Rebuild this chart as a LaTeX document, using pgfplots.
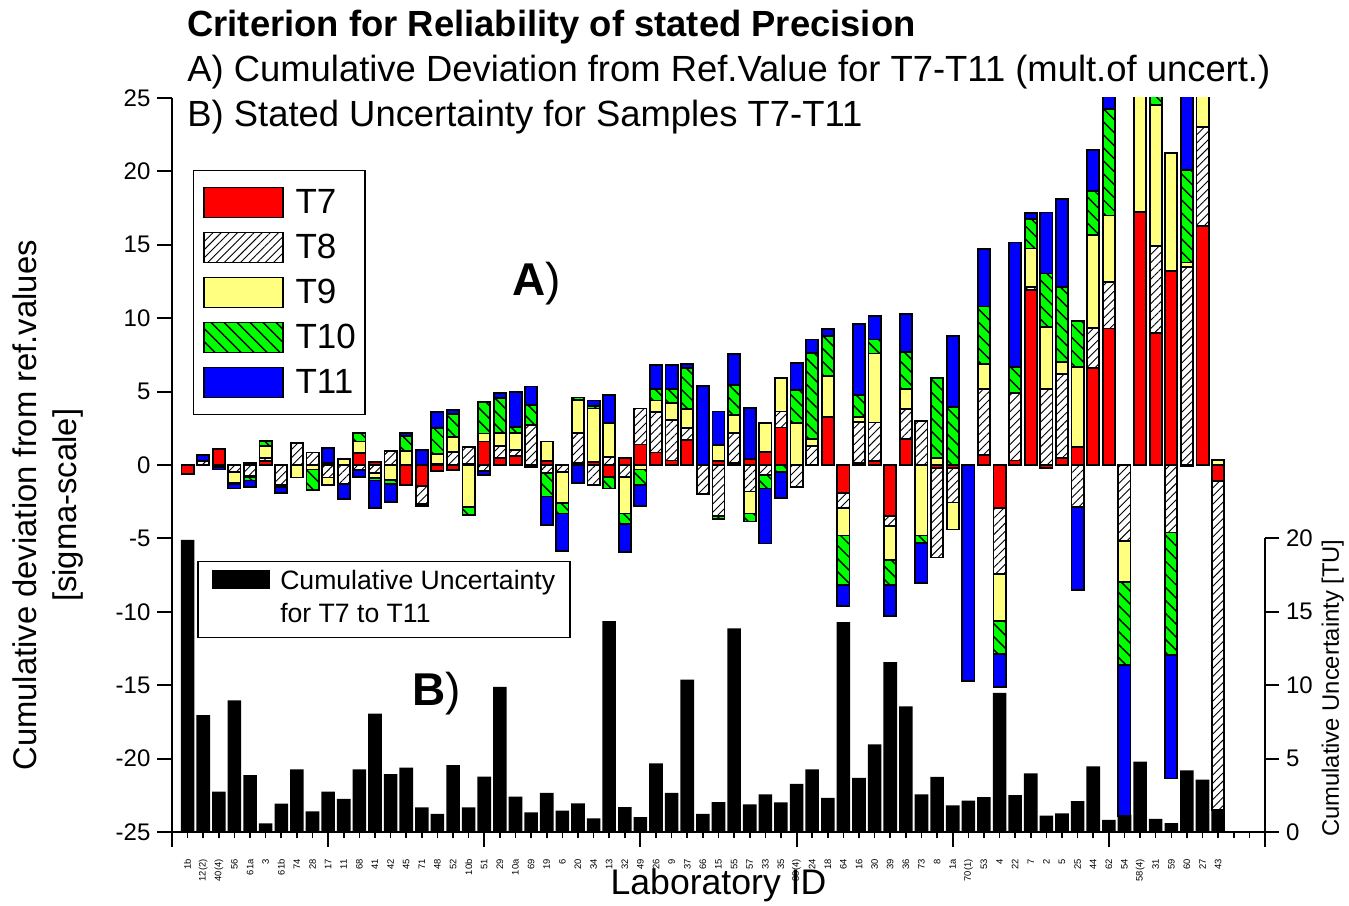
\documentclass[border=0pt]{standalone}
\usepackage{fontspec}
\setmainfont{Liberation Sans}
\usepackage{pgfplots}
\usepackage{pgfplotstable}
\pgfplotsset{compat=1.18}
\usetikzlibrary{patterns.meta}

\definecolor{tred}{RGB}{255,0,0}
\definecolor{tyellow}{RGB}{255,255,128}
\definecolor{tgreen}{RGB}{0,255,0}
\definecolor{tblue}{RGB}{0,0,255}

% x = position of the lab, c1..c5 = cumulative deviation after T7..T11, tu = cumulative uncertainty
\pgfplotstableread{
x  c1     c2     c3     c4     c5     tu
1  -0.6   0      0      0      0      19.9
2  0      0.25   0.25   0.25   0.7    7.97
3  1.1    -0.1   -0.1   -0.15  -0.3   2.75
4  0      -0.45  -1.25  -1.3   -1.6   8.97
5  0.15   -0.75  -0.85  -1.05  -1.5   3.88
6  0.25   0.45   1.3    1.65   1.65   0.59
7  0      -1.35  -1.4   -1.5   -1.9   1.93
8  0      1.5    -0.85  -0.85  -0.85  4.27
9  0      0.85   -0.3   -1.7   -1.7   1.41
10 0.15   -0.85  -1.35  -1.35  1.15   2.75
11 0      -1.3   0.4    0.4    -2.3   2.25
12 0.8    -0.35  1.6    2.2    -0.8   4.27
13 0.2    -0.55  -0.9   -1.05  -2.95  8.06
14 0      0.95   -1.0   -1.3   -2.5   3.95
15 -1.35  0      0.95   2.0    2.2    4.38
16 -1.45  -2.65  -2.8   -2.8   1.0    1.68
17 -0.4   0.1    0.75   2.5    3.6    1.23
18 -0.35  0.9    1.9    3.5    3.75   4.56
19 0.1    1.25   -2.85  -3.4   -3.4   1.68
20 1.6    -0.4   2.15   4.3    -0.7   3.77
21 0.5    1.3    2.2    4.55   4.9    9.88
22 0.6    1.0    2.2    2.6    5.0    2.41
23 -0.15  2.75   2.75   4.1    5.35   1.34
24 0.25   -0.55  1.6    -2.15  -4.1   2.66
25 0      -0.45  -2.6   -3.3   -5.85  1.45
26 0.15   2.2    4.45   4.6    -1.2   1.95
27 0.2    -1.35  3.85   4.0    4.4    0.93
28 -0.8   0.55   2.85   -1.6   4.75   14.37
29 0.45   -0.8   -3.3   -4.0   -5.95  1.70
30 1.4    3.85   -0.3   -1.35  -2.8   1.02
31 0.85   3.6    4.4    5.15   6.8    4.68
32 0.3    3.05   4.25   5.15   6.8    2.66
33 1.7    2.5    3.8    6.6    6.9    10.38
34 0      -1.95  -1.95  -1.95  5.4    1.23
35 0.25   -3.45  1.35   -3.7   3.65   2.04
36 0.15   2.2    3.4    5.45   7.55   13.87
37 0.4    -1.8   -3.3   -3.85  3.9    1.88
38 0.9    -0.7   2.85   -1.6   -5.35  2.57
39 2.55   3.65   5.95   -0.45  -2.25  2.02
40 0      -1.5   2.85   5.1    6.95   3.27
41 0      1.3    1.75   7.65   8.55   4.27
42 3.25   3.25   6.05   8.8    9.25   2.32
43 -1.9   -2.95  -4.8   -8.15  -9.6   14.3
44 0.15   2.95   3.25   4.75   9.6    3.68
45 0.25   2.9    7.6    8.55   10.15  5.97
46 -3.45  -4.15  -6.45  -8.2   -10.3  11.58
47 1.75   3.8    5.2    7.7    10.3   8.56
48 0      3.0    -4.8   -5.3   -8.05  2.57
49 -0.2   -6.3   0.5    5.9    5.9    3.75
50 -0.2   -2.55  -4.4   3.95   8.8    1.82
51 0      0      0      0      -14.7  2.13
52 0.7    5.2    6.9    10.8   14.7   2.38
53 -2.95  -7.4   -10.6  -12.9  -15.1  9.47
54 0.3    4.9    4.9    6.7    15.15  2.52
55 11.9   12.1   14.75  16.75  17.15  4.0
56 -0.2   5.2    9.4    13.05  17.2   1.11
57 0.45   6.2    7.0    12.15  18.1   1.27
58 1.25   -2.85  6.7    9.8    -8.5   2.11
59 6.6    9.35   15.65  18.65  21.45  4.47
60 9.3    12.45  17.0   24.25  26     0.82
61 0      -5.2   -7.95  -13.6  -23.9  1.17
62 17.25  17.25  26     26     26     4.8
63 9.0    14.9   24.5   26     26     0.9
64 13.2   -4.6   21.25  -12.95 -21.35 0.6
65 -0.1   13.5   13.8   20.1   26     4.2
66 16.3   23.05  26     26     26     3.56
67 -1.1   -23.5  0.35   0.35   0.35   1.5
}\labdata

\begin{document}
\begin{tikzpicture}
\useasboundingbox (-86pt,-36.5pt) rectangle (588.5pt,416pt);

% B) cumulative uncertainty, right axis
\begin{axis}[
    scale only axis,
    width=546.5pt, height=367pt,
    xmin=0, xmax=70, ymin=0, ymax=50,
    axis x line=none,
    axis y line*=right,
    y axis line style={draw=none},
    ytick={0,5,...,20},
    tick align=outside,
    major tick length=7pt,
    tick style={line width=1pt, black},
    /pgf/number format/assume math mode=true,
    yticklabel style={font=\fontsize{12}{14}\selectfont},
    ylabel={Cumulative Uncertainty [TU]},
    every axis y label/.style={at={(axis description cs:1.062,0.196)}, anchor=center, rotate=90, font=\fontsize{11.9}{14}\selectfont},
]
\addplot[ybar, bar width=0.87, bar shift=0pt, fill=black, draw=none] table[x=x, y=tu] {\labdata};
\end{axis}

% A) cumulative deviation, left axis
\begin{axis}[
    scale only axis,
    width=546.5pt, height=367pt,
    xmin=0, xmax=70, ymin=-25, ymax=25,
    axis x line*=bottom,
    axis y line*=left,
    axis line style={line width=1pt, -},
    xtick={0,10,...,70},
    xticklabels={,,,,,,,},
    minor x tick num=9,
    extra x ticks={1,...,67},
    extra x tick labels={{1b},{12(2)},{40(4)},{56},{61a},{3},{61b},{74},{28},{17},{11},{68},{41},{42},{45},{71},{48},{52},{10b},{51},{29},{10a},{69},{19},{6},{20},{34},{13},{32},{49},{26},{9},{37},{66},{15},{55},{57},{33},{35},{38(4)},{24},{18},{64},{16},{30},{39},{36},{73},{8},{1a},{70(1)},{53},{4},{22},{7},{2},{5},{25},{44},{62},{54},{58(4)},{31},{59},{60},{27},{43}},
    extra x tick style={major tick length=0pt},
    x tick label style={yshift=-13.5pt, rotate=90, anchor=east, font=\fontsize{4.7}{5}\selectfont, inner sep=0pt},
    ytick={-25,-20,...,25},
    tick align=outside,
    major tick length=7.25pt,
    minor tick length=3pt,
    tick style={line width=1pt, black},
    minor tick style={line width=0.8pt},
    /pgf/number format/assume math mode=true,
    yticklabel style={font=\fontsize{12}{14}\selectfont},
    xlabel={Laboratory ID},
    every axis x label/.style={at={(axis description cs:0.5,-0.072)}, anchor=center, font=\fontsize{17.8}{20}\selectfont},
    ylabel={Cumulative deviation from ref.values\\{[sigma-scale]}},
    every axis y label/.style={at={(axis description cs:-0.1134,0.445)}, anchor=center, rotate=90, align=center, font=\fontsize{16.4}{20}\selectfont},
    legend image code/.code={\draw[#1, line width=0.9pt] (0pt,-7.5pt) rectangle (39.5pt,7.5pt);},
    legend cell align=left,
    legend style={at={(axis description cs:0.0192,0.902)}, anchor=north west,
        draw=black, line width=0.75pt, fill=white,
        font=\fontsize{17.5}{20}\selectfont,
        inner xsep=4.5pt, inner ysep=8pt, row sep=6.6pt,
        nodes={inner sep=0pt},
        /tikz/every odd column/.append style={column sep=6pt}},
]
\addlegendimage{fill=tred, draw=black}
\addlegendentry{T7}
\addlegendimage{fill=white, draw=black, postaction={pattern={Lines[angle=45, distance=2.9pt, line width=0.45pt]}}}
\addlegendentry{T8}
\addlegendimage{fill=tyellow, draw=black}
\addlegendentry{T9}
\addlegendimage{fill=tgreen, draw=black, postaction={pattern={Lines[angle=-45, distance=4.6pt, line width=0.7pt]}}}
\addlegendentry{T10}
\addlegendimage{fill=tblue, draw=black}
\addlegendentry{T11}

% drawn from 0 to the cumulative value, T11 first so that T7 lies on top
\addplot[ybar, bar width=0.78, bar shift=0pt, fill=tblue, draw=black, line width=0.9pt, forget plot] table[x=x, y=c5] {\labdata};
\addplot[ybar, bar width=0.78, bar shift=0pt, fill=tgreen, draw=black, line width=0.9pt, forget plot,
    postaction={pattern={Lines[angle=-45, distance=4.6pt, line width=0.7pt]}}] table[x=x, y=c4] {\labdata};
\addplot[ybar, bar width=0.78, bar shift=0pt, fill=tyellow, draw=black, line width=0.9pt, forget plot] table[x=x, y=c3] {\labdata};
\addplot[ybar, bar width=0.78, bar shift=0pt, fill=white, draw=black, line width=0.9pt, forget plot,
    postaction={pattern={Lines[angle=45, distance=2.9pt, line width=0.45pt]}}] table[x=x, y=c2] {\labdata};
\addplot[ybar, bar width=0.78, bar shift=0pt, fill=tred, draw=black, line width=0.9pt, forget plot] table[x=x, y=c1] {\labdata};

\node[anchor=base west, inner sep=0pt, font=\fontsize{23}{26}\selectfont] at (axis description cs:0.311,0.7316) {\textbf{A})};
\node[anchor=base west, inner sep=0pt, font=\fontsize{23}{26}\selectfont] at (axis description cs:0.2196,0.173) {\textbf{B})};
\end{axis}

% right axis line only over the TU range 0..20
\draw[line width=1pt] (546.5pt,0pt) -- (546.5pt,146.8pt);

% legend of part B
\node[draw, line width=0.75pt, fill=white, anchor=north west, inner sep=0pt,
      minimum width=186pt, minimum height=38pt, font=\fontsize{13.3}{16.5}\selectfont]
    at (12.5pt,135.5pt)
    {\begin{tabular}{@{}l@{\hspace{5pt}}l@{}}\rule[0.5pt]{29pt}{9.5pt} & Cumulative Uncertainty\\ & for T7 to T11\end{tabular}};

% titles
\node[anchor=base west, inner sep=0pt, font=\fontsize{18.2}{20}\selectfont\bfseries] at (7.5pt,397.5pt) {Criterion for Reliability of stated Precision};
\node[anchor=base west, inner sep=0pt, font=\fontsize{18.2}{20}\selectfont] at (7.5pt,375pt) {A) Cumulative Deviation from Ref.Value for T7-T11 (mult.of uncert.)};
\node[anchor=base west, inner sep=0pt, font=\fontsize{18.2}{20}\selectfont] at (7.5pt,352.5pt) {B) Stated Uncertainty for Samples T7-T11};
\end{tikzpicture}
\end{document}
